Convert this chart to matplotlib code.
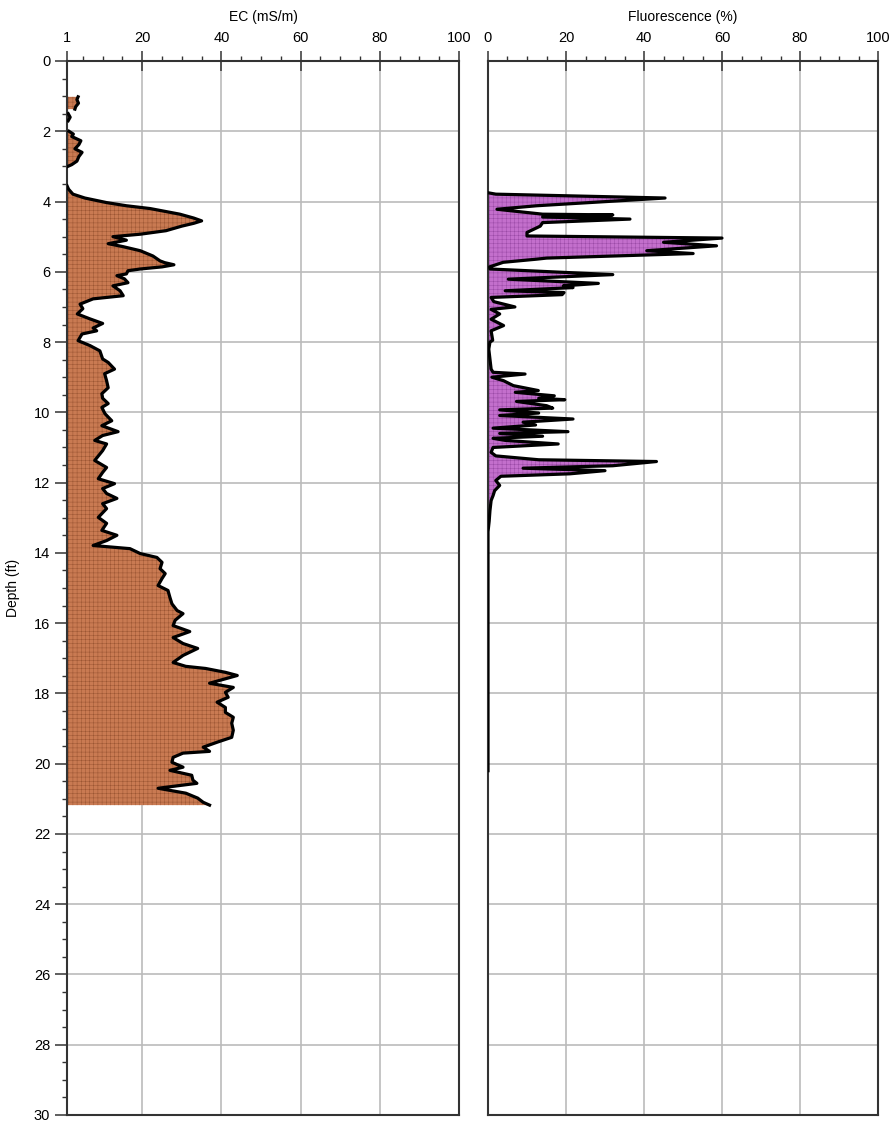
import numpy as np
import matplotlib
matplotlib.use("Agg")
from matplotlib import pyplot as plt
from matplotlib.ticker import MultipleLocator

# EC log (depth in ft, EC in mS/m); nan marks gaps in the record
ec_depth = [1.02, 1.1, 1.2, 1.3, 1.37, np.nan,
            1.5, 1.6, 1.7, np.nan,
            2.0, 2.08, 2.15, 2.27, 2.38, 2.5, 2.6, 2.72, 2.85, 2.95, 3.0, np.nan,
            3.55, 3.65, 3.79, 3.9, 4.03, 4.12, 4.2, 4.36, 4.47, 4.55, 4.62, 4.7, 4.83, 4.93, 5.0,
            5.1, 5.2, 5.28, 5.4, 5.55, 5.69, 5.74, 5.8, 5.86, 5.92, 5.97, 6.06, 6.11, 6.2, 6.31,
            6.4, 6.54, 6.68, 6.77, 6.92, 7.05, 7.2, 7.34, 7.47, 7.6, 7.68, 7.77, 7.96, 8.1,
            8.25, 8.48, 8.58, 8.77, 8.9, 9.1, 9.3, 9.47, 9.6, 9.75, 9.86, 10.04, 10.24, 10.38,
            10.55, 10.66, 10.8, 10.9, 11.09, 11.37, 11.57, 11.71, 11.89, 12.03, 12.17, 12.31,
            12.45, 12.6, 12.74, 12.99, 13.16, 13.36, 13.5, 13.65, 13.79, 13.88, 14.02, 14.13,
            14.27, 14.45, 14.59, 14.73, 14.93, 15.07, 15.27, 15.45, 15.64, 15.73, 15.92, 16.07,
            16.24, 16.41, 16.58, 16.72, 16.92, 17.12, 17.23, 17.29, 17.4, 17.49, 17.63, 17.71,
            17.83, 17.97, 18.11, 18.25, 18.4, 18.54, 18.68, 18.85, 19.05, 19.25, 19.39, 19.53,
            19.65, 19.7, 19.82, 19.96, 20.1, 20.19, 20.33, 20.47, 20.56, 20.7, 20.84, 20.98,
            21.1, 21.18]
ec_value = [3.8, 3.5, 3.9, 3.2, 3.0, np.nan,
            1.3, 1.8, 1.3, np.nan,
            1.5, 2.6, 2.2, 4.5, 4.0, 3.0, 4.8, 4.0, 3.5, 2.2, 1.2, np.nan,
            1.0, 1.4, 2.5, 5.5, 11.0, 16.0, 22.0, 29.5, 33.0, 35.0, 33.0, 30.0, 26.0, 19.5, 12.6,
            16.0, 11.4, 15.0, 19.5, 22.7, 24.5, 25.7, 28.0, 25.0, 19.5, 16.4, 16.0, 13.6, 15.5, 16.4,
            12.6, 14.4, 15.2, 7.6, 4.3, 5.0, 3.6, 6.8, 10.0, 7.6, 8.5, 4.8, 3.8, 6.8,
            9.3, 10.0, 11.4, 13.0, 10.5, 11.0, 11.4, 9.8, 10.0, 11.4, 9.8, 10.6, 12.3, 9.8,
            13.9, 10.0, 8.0, 11.0, 10.0, 8.0, 11.0, 10.0, 8.9, 13.0, 10.0, 11.0,
            13.6, 10.0, 11.0, 8.9, 11.0, 9.8, 13.6, 11.0, 7.6, 16.9, 19.5, 23.7,
            25.0, 24.5, 25.8, 25.0, 24.0, 26.5, 27.0, 27.5, 28.8, 30.3, 28.3, 27.8,
            32.0, 27.8, 30.3, 34.0, 30.3, 27.8, 31.0, 36.0, 41.0, 44.0, 39.5, 37.0,
            43.0, 41.0, 41.7, 38.9, 41.0, 41.0, 43.0, 42.6, 43.0, 42.6, 38.9, 35.4,
            37.0, 30.3, 27.8, 27.5, 30.3, 27.0, 32.5, 32.8, 33.8, 24.0, 31.0, 34.0,
            35.4, 37.0]

# Fluorescence log (depth in ft, % RE)
fl_depth = [3.75, 3.79, 3.9, 4.12, 4.22, 4.36, 4.38, 4.44, 4.5, 4.6, 4.7, 4.88, 4.98, 5.04,
            5.16, 5.26, 5.4, 5.48, 5.61, 5.64, 5.73, 5.86, 5.92, 5.95, 6.08, 6.21, 6.33,
            6.4, 6.45, 6.54, 6.59, 6.65, 6.73, 6.85, 7.0, 7.07, 7.2, 7.35, 7.53, 7.68, 7.95,
            8.0, 8.2, 8.77, 8.86, 8.91, 9.0, 9.1, 9.24, 9.38, 9.43, 9.53, 9.6, 9.64, 9.69,
            9.81, 9.88, 9.93, 10.02, 10.09, 10.19, 10.28, 10.36, 10.45, 10.55, 10.6, 10.68,
            10.74, 10.8, 10.9, 11.0, 11.14, 11.24, 11.35, 11.4, 11.52, 11.59, 11.66, 11.75,
            11.82, 11.94, 12.08, 12.23, 12.37, 12.51, 12.8, 13.1, 13.4, 20.2]
fl_value = [0.0, 2.0, 45.4, 12.5, 2.3, 14.0, 32.0, 14.0, 36.4, 14.0, 13.4, 10.0, 10.0, 60.0,
            45.0, 58.6, 40.7, 52.6, 15.0, 12.5, 3.9, 0.4, 0.5, 6.5, 32.0, 5.2, 28.3,
            19.3, 21.8, 4.4, 19.5, 19.0, 0.8, 1.5, 6.9, 0.8, 3.0, 0.8, 4.0, 0.8, 1.2,
            0.5, 0.2, 0.8, 1.3, 9.5, 1.0, 4.0, 6.5, 12.9, 7.0, 17.0, 13.0, 19.7, 7.3,
            15.0, 16.6, 3.0, 13.0, 3.0, 21.8, 9.0, 12.2, 1.3, 20.5, 3.0, 14.0,
            1.3, 4.5, 18.0, 1.3, 0.8, 2.0, 13.0, 43.2, 32.0, 9.0, 30.0, 21.0,
            3.3, 2.0, 3.0, 1.7, 1.3, 0.8, 0.5, 0.3, 0.0, 0.0]

ec_ticks = [1, 20, 40, 60, 80, 100]
fl_ticks = [0, 20, 40, 60, 80, 100]

plt.rcParams['font.family'] = ['Liberation Sans', 'DejaVu Sans']
plt.rcParams['hatch.linewidth'] = 0.35

fig = plt.figure(figsize=(8.91, 11.22), dpi=100)
ax1 = fig.add_axes([67 / 891, 1 - 1115 / 1122, 392 / 891, 1054 / 1122])
ax2 = fig.add_axes([488 / 891, 1 - 1115 / 1122, 390 / 891, 1054 / 1122])

def style_track(ax, xlim, ticks, label):
    ax.set_xlim(*xlim)
    ax.set_ylim(30, 0)
    ax.xaxis.set_ticks_position('top')
    ax.xaxis.set_label_position('top')
    ax.set_xticks(ticks)
    ax.xaxis.set_minor_locator(MultipleLocator(5))
    ax.set_xlabel(label, fontsize=10, labelpad=7)
    ax.tick_params(axis='x', which='major', direction='inout', length=14, width=1.1,
                   labelsize=10.5, pad=4.5, color='#333333')
    ax.tick_params(axis='x', which='minor', direction='out', length=3.5, width=1.0,
                   color='#333333')
    ax.grid(True, which='major', color='#bbbbbb', lw=1.2)
    ax.set_axisbelow(True)
    for s in ax.spines.values():
        s.set_color('#333333')
        s.set_linewidth(1.5)

style_track(ax1, (1, 100), ec_ticks, 'EC (mS/m)')
style_track(ax2, (0, 100), fl_ticks, 'Fluorescence (%)')

ax1.yaxis.set_major_locator(MultipleLocator(2))
ax1.yaxis.set_minor_locator(MultipleLocator(0.5))
ax1.tick_params(axis='y', which='major', length=8.5, width=1.1, labelsize=10.5, color='#333333')
ax1.tick_params(axis='y', which='minor', length=3.5, width=1.0, color='#333333')
ax1.set_ylabel('Depth (ft)', fontsize=10, labelpad=10)

ax2.yaxis.set_major_locator(MultipleLocator(2))
ax2.tick_params(axis='y', which='both', left=False, labelleft=False)

ec_d = np.array(ec_depth)
ec_v = np.array(ec_value)
ax1.fill_betweenx(ec_d, 1, ec_v, facecolor='#c97a52', edgecolor='#9a5533',
                  hatch='++++', linewidth=0, zorder=2)
ax1.plot(ec_v, ec_d, color='black', lw=2.3, zorder=3)

fl_d = np.array(fl_depth)
fl_v = np.array(fl_value)
ax2.fill_betweenx(fl_d, 0, fl_v, facecolor='#c36fcc', edgecolor='#9a4aa6',
                  hatch='++++', linewidth=0, zorder=2)
ax2.plot(fl_v, fl_d, color='black', lw=2.3, zorder=3)

fig.savefig('out.png', dpi=100)
